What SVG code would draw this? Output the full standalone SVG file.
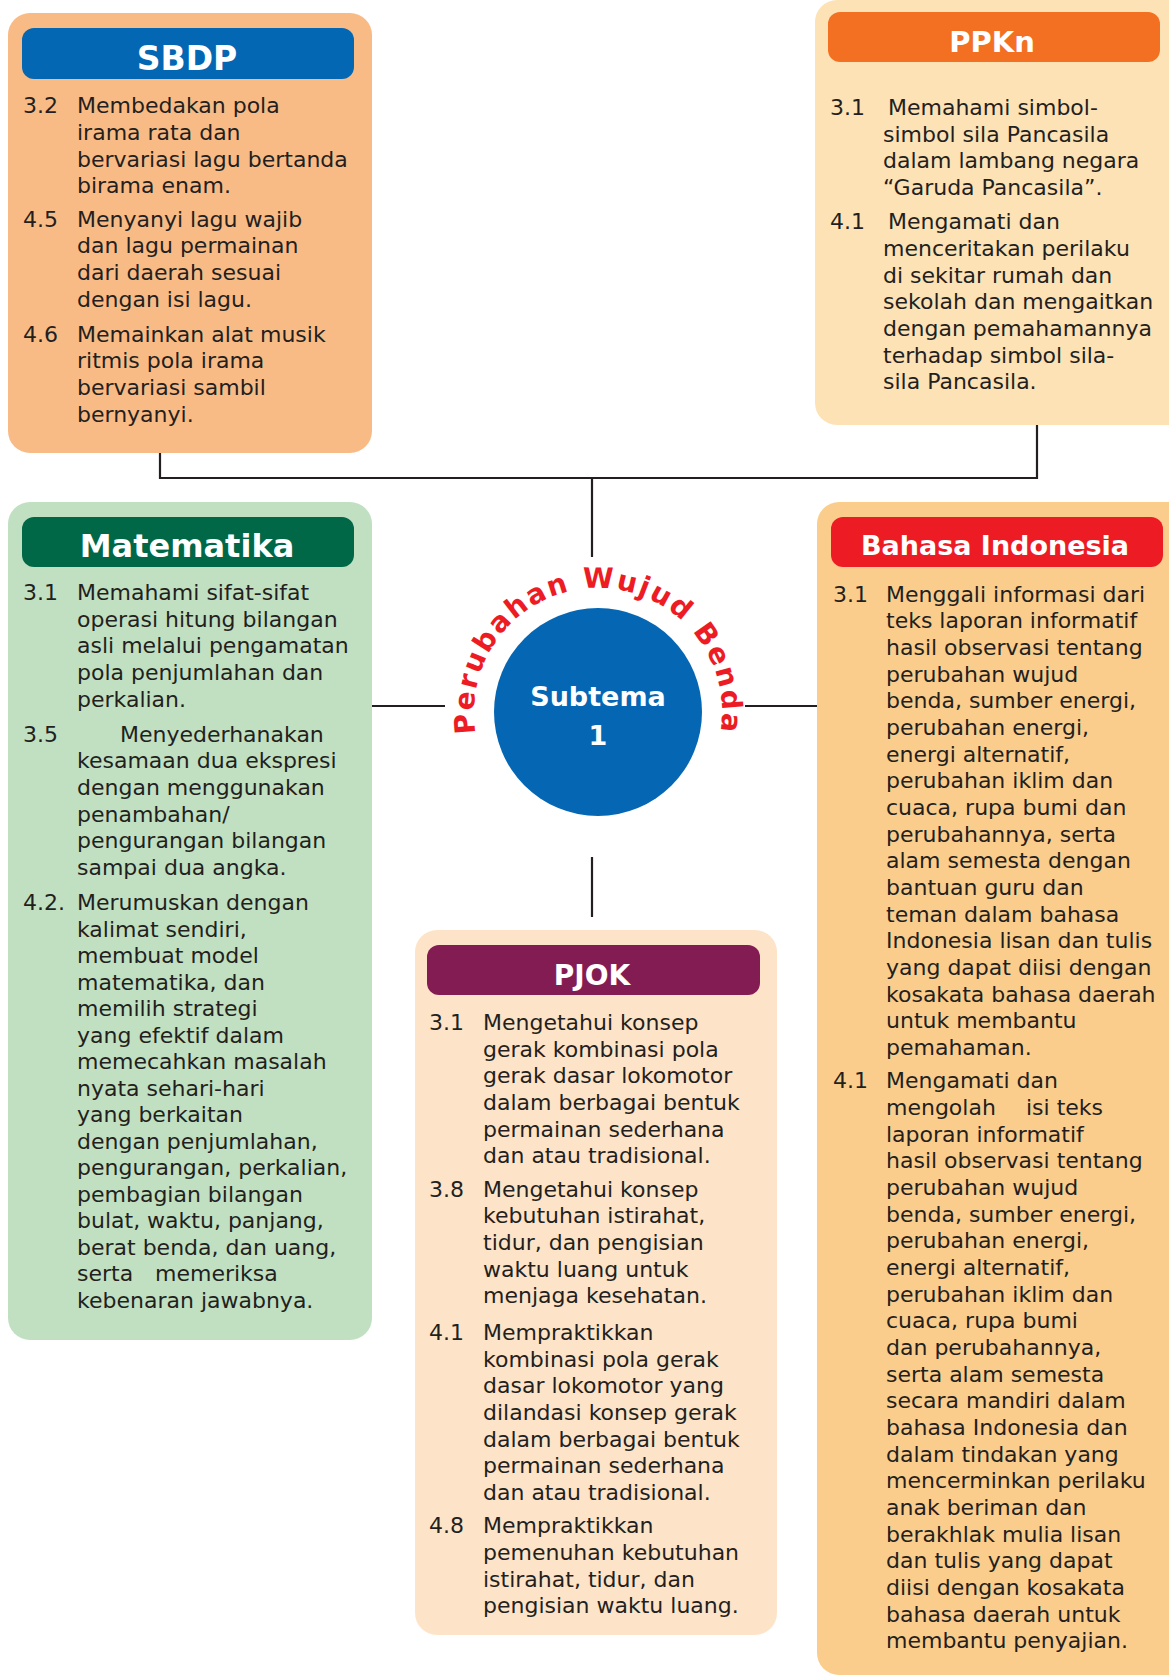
<svg xmlns="http://www.w3.org/2000/svg" xmlns:xlink="http://www.w3.org/1999/xlink" width="1169" height="1675" viewBox="0 0 1169 1675">
<style>
.body{font-family:"DejaVu Sans","Liberation Sans",sans-serif;font-size:22px;fill:#231f20}
.title{font-family:"DejaVu Sans","Liberation Sans",sans-serif;font-weight:bold;fill:#ffffff;text-anchor:middle}
.conn{stroke:#231f20;stroke-width:2.2;fill:none}
</style>
<defs>
<path id="arc" d="M 481.48 754.41 A 124 124 0 1 1 714.52 754.41"/>
</defs>
<rect width="1169" height="1675" fill="#ffffff"/>

<g id="connectors">
<path class="conn" d="M160 453 V478 H1037 V425"/>
<path class="conn" d="M592 478 V557"/>
<path class="conn" d="M372 706 H445"/>
<path class="conn" d="M745 706 H818"/>
<path class="conn" d="M592 857 V917"/>
</g>

<g id="sbdp">
<rect x="8" y="13" width="364" height="440" rx="22" fill="#f9bb85"/>
<rect x="22" y="28" width="332" height="51" rx="12" fill="#0467b3"/>
<text class="title" x="187" y="70" font-size="33">SBDP</text>
<text class="body">
<tspan x="23" y="113.3">3.2</tspan><tspan x="77" y="113.3">Membedakan pola</tspan>
<tspan x="77" y="140">irama rata dan</tspan>
<tspan x="77" y="166.7">bervariasi lagu bertanda</tspan>
<tspan x="77" y="193.3">birama enam.</tspan>
<tspan x="23" y="226.7">4.5</tspan><tspan x="77" y="226.7">Menyanyi lagu wajib</tspan>
<tspan x="77" y="253.3">dan lagu permainan</tspan>
<tspan x="77" y="280">dari daerah sesuai</tspan>
<tspan x="77" y="306.7">dengan isi lagu.</tspan>
<tspan x="23" y="341.7">4.6</tspan><tspan x="77" y="341.7">Memainkan alat musik</tspan>
<tspan x="77" y="368.3">ritmis pola irama</tspan>
<tspan x="77" y="395">bervariasi sambil</tspan>
<tspan x="77" y="421.7">bernyanyi.</tspan>
</text>
</g>

<g id="ppkn">
<rect x="815" y="0" width="380" height="425" rx="22" fill="#fde2b6"/>
<rect x="828" y="12" width="332" height="50" rx="12" fill="#f37023"/>
<text class="title" x="992" y="52" font-size="29">PPKn</text>
<text class="body">
<tspan x="830" y="115">3.1</tspan><tspan x="888" y="115">Memahami simbol-</tspan>
<tspan x="883" y="141.7">simbol sila Pancasila</tspan>
<tspan x="883" y="168.3">dalam lambang negara</tspan>
<tspan x="883" y="195">“Garuda Pancasila”.</tspan>
<tspan x="830" y="229.3">4.1</tspan><tspan x="888" y="229.3">Mengamati dan</tspan>
<tspan x="883" y="256">menceritakan perilaku</tspan>
<tspan x="883" y="282.7">di sekitar rumah dan</tspan>
<tspan x="883" y="309.3">sekolah dan mengaitkan</tspan>
<tspan x="883" y="336">dengan pemahamannya</tspan>
<tspan x="883" y="362.7">terhadap simbol sila-</tspan>
<tspan x="883" y="389.3">sila Pancasila.</tspan>
</text>
</g>

<g id="matematika">
<rect x="8" y="502" width="364" height="838" rx="22" fill="#c1e0c2"/>
<rect x="22" y="517" width="332" height="50" rx="12" fill="#006747"/>
<text class="title" x="187" y="557" font-size="32">Matematika</text>
<text class="body">
<tspan x="23" y="600">3.1</tspan><tspan x="77" y="600">Memahami sifat-sifat</tspan>
<tspan x="77" y="626.7">operasi hitung bilangan</tspan>
<tspan x="77" y="653.3">asli melalui pengamatan</tspan>
<tspan x="77" y="680">pola penjumlahan dan</tspan>
<tspan x="77" y="706.7">perkalian.</tspan>
<tspan x="23" y="741.7">3.5</tspan><tspan x="120" y="741.7">Menyederhanakan</tspan>
<tspan x="77" y="768.3">kesamaan dua ekspresi</tspan>
<tspan x="77" y="795">dengan menggunakan</tspan>
<tspan x="77" y="821.7">penambahan/</tspan>
<tspan x="77" y="848.3">pengurangan bilangan</tspan>
<tspan x="77" y="875">sampai dua angka.</tspan>
<tspan x="23" y="910">4.2.</tspan><tspan x="77" y="910">Merumuskan dengan</tspan>
<tspan x="77" y="936.5">kalimat sendiri,</tspan>
<tspan x="77" y="963">membuat model</tspan>
<tspan x="77" y="989.5">matematika, dan</tspan>
<tspan x="77" y="1016">memilih strategi</tspan>
<tspan x="77" y="1042.5">yang efektif dalam</tspan>
<tspan x="77" y="1069">memecahkan masalah</tspan>
<tspan x="77" y="1095.5">nyata sehari-hari</tspan>
<tspan x="77" y="1122">yang berkaitan</tspan>
<tspan x="77" y="1148.5">dengan penjumlahan,</tspan>
<tspan x="77" y="1175">pengurangan, perkalian,</tspan>
<tspan x="77" y="1201.5">pembagian bilangan</tspan>
<tspan x="77" y="1228">bulat, waktu, panjang,</tspan>
<tspan x="77" y="1254.5">berat benda, dan uang,</tspan>
<tspan x="77" y="1281">serta</tspan><tspan x="155" y="1281">memeriksa</tspan>
<tspan x="77" y="1307.5">kebenaran jawabnya.</tspan>
</text>
</g>

<g id="subtema">
<circle cx="598" cy="712" r="104" fill="#0567b4"/>
<text class="title" x="598" y="706" font-size="27">Subtema</text>
<text class="title" x="598" y="745" font-size="27">1</text>
<text font-family="DejaVu Sans, Liberation Sans, sans-serif" font-weight="bold" font-size="28" fill="#ed1c24" letter-spacing="2" text-anchor="middle"><textPath xlink:href="#arc" href="#arc" startOffset="50%">Perubahan Wujud Benda</textPath></text>
</g>

<g id="pjok">
<rect x="415" y="930" width="362" height="705" rx="22" fill="#fde4c8"/>
<rect x="427" y="945" width="333" height="50" rx="12" fill="#841c54"/>
<text class="title" x="592" y="985" font-size="28">PJOK</text>
<text class="body">
<tspan x="429" y="1030">3.1</tspan><tspan x="483" y="1030">Mengetahui konsep</tspan>
<tspan x="483" y="1056.7">gerak kombinasi pola</tspan>
<tspan x="483" y="1083.3">gerak dasar lokomotor</tspan>
<tspan x="483" y="1110">dalam berbagai bentuk</tspan>
<tspan x="483" y="1136.7">permainan sederhana</tspan>
<tspan x="483" y="1163.3">dan atau tradisional.</tspan>
<tspan x="429" y="1196.7">3.8</tspan><tspan x="483" y="1196.7">Mengetahui konsep</tspan>
<tspan x="483" y="1223.3">kebutuhan istirahat,</tspan>
<tspan x="483" y="1250">tidur, dan pengisian</tspan>
<tspan x="483" y="1276.7">waktu luang untuk</tspan>
<tspan x="483" y="1303.3">menjaga kesehatan.</tspan>
<tspan x="429" y="1340">4.1</tspan><tspan x="483" y="1340">Mempraktikkan</tspan>
<tspan x="483" y="1366.7">kombinasi pola gerak</tspan>
<tspan x="483" y="1393.3">dasar lokomotor yang</tspan>
<tspan x="483" y="1420">dilandasi konsep gerak</tspan>
<tspan x="483" y="1446.7">dalam berbagai bentuk</tspan>
<tspan x="483" y="1473.3">permainan sederhana</tspan>
<tspan x="483" y="1500">dan atau tradisional.</tspan>
<tspan x="429" y="1533.3">4.8</tspan><tspan x="483" y="1533.3">Mempraktikkan</tspan>
<tspan x="483" y="1560">pemenuhan kebutuhan</tspan>
<tspan x="483" y="1586.7">istirahat, tidur, dan</tspan>
<tspan x="483" y="1613.3">pengisian waktu luang.</tspan>
</text>
</g>

<g id="bahasa-indonesia">
<rect x="817" y="502" width="380" height="1173" rx="22" fill="#fbcd8c"/>
<rect x="831" y="517" width="332" height="50" rx="12" fill="#ed1c24"/>
<text class="title" x="995" y="555" font-size="27">Bahasa Indonesia</text>
<text class="body">
<tspan x="833" y="601.7">3.1</tspan><tspan x="886" y="601.7">Menggali informasi dari</tspan>
<tspan x="886" y="628.3">teks laporan informatif</tspan>
<tspan x="886" y="655">hasil observasi tentang</tspan>
<tspan x="886" y="681.7">perubahan wujud</tspan>
<tspan x="886" y="708.3">benda, sumber energi,</tspan>
<tspan x="886" y="735">perubahan energi,</tspan>
<tspan x="886" y="761.7">energi alternatif,</tspan>
<tspan x="886" y="788.3">perubahan iklim dan</tspan>
<tspan x="886" y="815">cuaca, rupa bumi dan</tspan>
<tspan x="886" y="841.7">perubahannya, serta</tspan>
<tspan x="886" y="868.3">alam semesta dengan</tspan>
<tspan x="886" y="895">bantuan guru dan</tspan>
<tspan x="886" y="921.7">teman dalam bahasa</tspan>
<tspan x="886" y="948.3">Indonesia lisan dan tulis</tspan>
<tspan x="886" y="975">yang dapat diisi dengan</tspan>
<tspan x="886" y="1001.7">kosakata bahasa daerah</tspan>
<tspan x="886" y="1028.3">untuk membantu</tspan>
<tspan x="886" y="1055">pemahaman.</tspan>
<tspan x="833" y="1088.3">4.1</tspan><tspan x="886" y="1088.3">Mengamati dan</tspan>
<tspan x="886" y="1115">mengolah</tspan><tspan x="1026" y="1115">isi teks</tspan>
<tspan x="886" y="1141.7">laporan informatif</tspan>
<tspan x="886" y="1168.3">hasil observasi tentang</tspan>
<tspan x="886" y="1195">perubahan wujud</tspan>
<tspan x="886" y="1221.7">benda, sumber energi,</tspan>
<tspan x="886" y="1248.3">perubahan energi,</tspan>
<tspan x="886" y="1275">energi alternatif,</tspan>
<tspan x="886" y="1301.7">perubahan iklim dan</tspan>
<tspan x="886" y="1328.3">cuaca, rupa bumi</tspan>
<tspan x="886" y="1355">dan perubahannya,</tspan>
<tspan x="886" y="1381.7">serta alam semesta</tspan>
<tspan x="886" y="1408.3">secara mandiri dalam</tspan>
<tspan x="886" y="1435">bahasa Indonesia dan</tspan>
<tspan x="886" y="1461.7">dalam tindakan yang</tspan>
<tspan x="886" y="1488.3">mencerminkan perilaku</tspan>
<tspan x="886" y="1515">anak beriman dan</tspan>
<tspan x="886" y="1541.7">berakhlak mulia lisan</tspan>
<tspan x="886" y="1568.3">dan tulis yang dapat</tspan>
<tspan x="886" y="1595">diisi dengan kosakata</tspan>
<tspan x="886" y="1621.7">bahasa daerah untuk</tspan>
<tspan x="886" y="1648.3">membantu penyajian.</tspan>
</text>
</g>
</svg>
